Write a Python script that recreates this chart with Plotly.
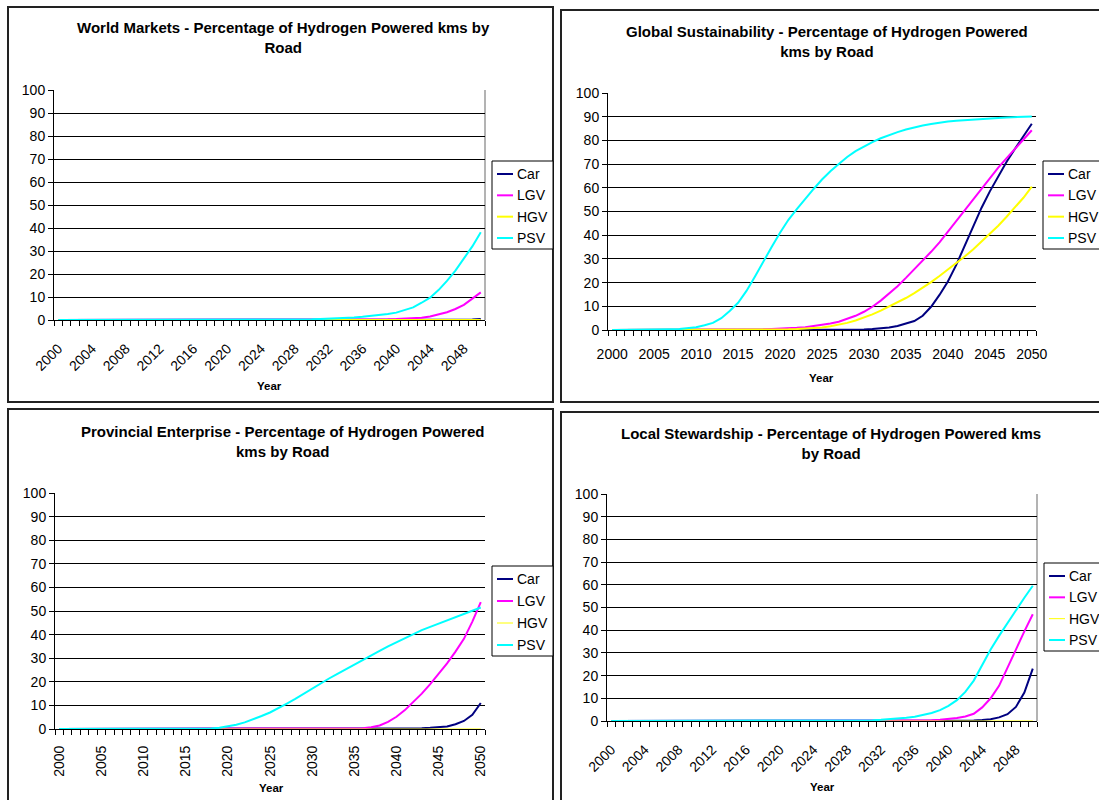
import plotly.graph_objects as go

W, H = 1099, 800

years = list(range(2000, 2051))
series_names = ["Car", "LGV", "HGV", "PSV"]
series_colors = ["#000080", "#FF00FF", "#FFFF00", "#00FFFF"]

titles = [
    "World Markets - Percentage of Hydrogen Powered kms by<br>Road",
    "Global Sustainability - Percentage of Hydrogen Powered<br>kms by Road",
    "Provincial Enterprise - Percentage of Hydrogen Powered<br>kms by Road",
    "Local Stewardship - Percentage of Hydrogen Powered kms<br>by Road",
]
x_title = "Year"

# ---- World Markets ----
wm_car = [0, 0, 0, 0, 0, 0, 0, 0, 0, 0,
          0, 0, 0, 0, 0, 0, 0, 0, 0, 0,
          0, 0, 0, 0, 0, 0, 0, 0, 0, 0,
          0, 0, 0, 0, 0, 0, 0, 0, 0, 0,
          0, 0, 0, 0, 0, 0, 0, 0, 0.1, 0.2,
          0.4]
wm_lgv = [0, 0, 0, 0, 0, 0, 0, 0, 0, 0,
          0, 0, 0, 0, 0, 0, 0, 0, 0, 0,
          0, 0, 0, 0, 0, 0, 0, 0, 0, 0,
          0, 0, 0, 0, 0, 0.1, 0.1, 0.15, 0.2, 0.3,
          0.4, 0.5, 0.7, 1.0, 1.5, 2.3, 3.4, 4.8, 6.6, 9.3,
          12.0]
wm_hgv = [0, 0, 0, 0, 0, 0, 0, 0, 0, 0,
          0, 0, 0, 0, 0, 0, 0, 0, 0, 0,
          0, 0, 0, 0, 0, 0, 0, 0, 0, 0,
          0, 0, 0, 0, 0, 0, 0, 0, 0, 0,
          0, 0, 0, 0, 0, 0, 0, 0, 0, 0,
          0]
wm_psv = [0, 0, 0, 0, 0, 0, 0, 0, 0, 0,
          0, 0, 0, 0, 0, 0, 0, 0, 0, 0,
          0, 0, 0, 0, 0, 0, 0, 0.1, 0.1, 0.2,
          0.3, 0.4, 0.5, 0.7, 0.9, 1.1, 1.4, 1.7, 2.1, 2.6,
          3.2, 4.2, 5.5, 7.5, 9.7, 13.0, 17.0, 21.5, 26.5, 32.0,
          38.2]

# ---- Global Sustainability ----
gs_car = [0, 0, 0, 0, 0, 0, 0, 0, 0, 0,
          0, 0, 0, 0, 0, 0, 0, 0, 0, 0,
          0, 0, 0, 0, 0, 0, 0, 0, 0, 0.1,
          0.2, 0.4, 0.7, 1.1, 1.7, 2.6, 3.8, 6.0, 9.8, 14.8,
          20.5, 27.5, 35.5, 43.5, 51.5, 58.5, 65.0, 71.0, 76.5, 82.0,
          87.0]
gs_lgv = [0, 0, 0, 0, 0, 0, 0, 0, 0, 0,
          0, 0, 0, 0, 0, 0.1, 0.1, 0.2, 0.3, 0.4,
          0.5, 0.7, 0.9, 1.2, 1.6, 2.1, 2.7, 3.5, 4.6, 6.0,
          7.7, 9.8, 12.4, 15.3, 18.5, 22.0, 25.6, 29.3, 33.0, 37.0,
          41.5, 46.0, 50.5, 55.0, 59.5, 64.0, 68.5, 72.5, 76.5, 80.5,
          84.3]
gs_hgv = [0, 0, 0, 0, 0, 0, 0, 0, 0, 0,
          0, 0, 0, 0, 0, 0, 0, 0, 0.1, 0.1,
          0.2, 0.3, 0.4, 0.6, 0.8, 1.1, 1.6, 2.2, 3.0, 4.0,
          5.2, 6.6, 8.2, 9.9, 11.6, 13.5, 15.6, 17.8, 20.2, 22.8,
          25.5, 28.2, 31.0, 34.0, 37.2, 40.5, 44.0, 47.8, 51.6, 55.8,
          60.5]
gs_psv = [0, 0, 0, 0, 0.1, 0.1, 0.2, 0.3, 0.4, 0.7,
          1.2, 2.0, 3.0, 5.0, 8.0, 11.5, 16.5, 22.5, 29.0, 35.0,
          41.0, 46.5, 51.0, 55.5, 59.5, 63.5, 67.0, 70.0, 73.0, 75.5,
          77.5, 79.3, 80.9, 82.3, 83.5, 84.6, 85.5, 86.3, 86.9, 87.5,
          88.0, 88.3, 88.6, 88.9, 89.1, 89.3, 89.5, 89.7, 89.8, 90.0,
          90.1]

# ---- Provincial Enterprise ----
pe_car = [0, 0, 0, 0, 0, 0, 0, 0, 0, 0,
          0, 0, 0, 0, 0, 0, 0, 0, 0, 0,
          0, 0, 0, 0, 0, 0, 0, 0, 0, 0,
          0, 0, 0, 0, 0, 0, 0, 0, 0, 0,
          0, 0.1, 0.2, 0.3, 0.5, 0.8, 1.1, 2.0, 3.4, 6.0,
          11.0]
pe_lgv = [0, 0, 0, 0, 0, 0, 0, 0, 0, 0,
          0, 0, 0, 0, 0, 0, 0, 0, 0, 0,
          0, 0, 0, 0, 0, 0, 0, 0, 0, 0,
          0, 0, 0, 0, 0, 0.1, 0.3, 0.7, 1.5, 3.0,
          5.2, 8.0, 11.3, 15.0, 19.0, 23.2, 27.8, 32.8, 38.2, 45.5,
          53.8]
pe_hgv = [0, 0, 0, 0, 0, 0, 0, 0, 0, 0,
          0, 0, 0, 0, 0, 0, 0, 0, 0, 0,
          0, 0, 0, 0, 0, 0, 0, 0, 0, 0,
          0, 0, 0, 0, 0, 0, 0, 0, 0, 0,
          0, 0, 0, 0, 0, 0, 0, 0, 0, 0,
          0]
pe_psv = [0, 0, 0, 0, 0, 0, 0, 0, 0, 0,
          0, 0, 0, 0, 0, 0, 0, 0, 0.2, 0.5,
          1.0, 1.8, 2.8, 4.0, 5.5, 7.0, 8.8, 10.8, 12.8, 15.0,
          17.2, 19.3, 21.4, 23.4, 25.4, 27.3, 29.3, 31.2, 33.1, 35.0,
          36.8, 38.6, 40.3, 41.9, 43.3, 44.7, 46.0, 47.3, 48.6, 50.0,
          51.5]

# ---- Local Stewardship ----
ls_car = [0, 0, 0, 0, 0, 0, 0, 0, 0, 0,
          0, 0, 0, 0, 0, 0, 0, 0, 0, 0,
          0, 0, 0, 0, 0, 0, 0, 0, 0, 0,
          0, 0, 0, 0, 0, 0, 0, 0, 0, 0,
          0, 0, 0, 0.2, 0.4, 0.8, 1.6, 3.0, 6.2, 12.5,
          23.1]
ls_lgv = [0, 0, 0, 0, 0, 0, 0, 0, 0, 0,
          0, 0, 0, 0, 0, 0, 0, 0, 0, 0,
          0, 0, 0, 0, 0, 0, 0, 0, 0, 0,
          0, 0, 0, 0, 0, 0, 0.1, 0.2, 0.3, 0.5,
          0.8, 1.3, 2.0, 3.2, 6.0, 10.0, 15.5, 23.5, 32.0, 39.5,
          47.0]
ls_hgv = [0, 0, 0, 0, 0, 0, 0, 0, 0, 0,
          0, 0, 0, 0, 0, 0, 0, 0, 0, 0,
          0, 0, 0, 0, 0, 0, 0, 0, 0, 0,
          0, 0, 0, 0, 0, 0, 0, 0, 0, 0,
          0, 0, 0, 0, 0, 0, 0, 0, 0, 0,
          0]
ls_psv = [0, 0, 0, 0, 0, 0, 0, 0, 0, 0,
          0, 0, 0, 0, 0, 0, 0, 0, 0, 0,
          0, 0, 0, 0, 0, 0, 0, 0, 0, 0,
          0.2, 0.3, 0.5, 0.7, 1.0, 1.4, 1.9, 2.6, 3.5, 4.8,
          6.7, 9.2, 12.8, 17.8, 24.5, 31.5, 37.5, 43.2, 48.8, 54.3,
          59.6]

panels_data = [
    [wm_car, wm_lgv, wm_hgv, wm_psv],
    [gs_car, gs_lgv, gs_hgv, gs_psv],
    [pe_car, pe_lgv, pe_hgv, pe_psv],
    [ls_car, ls_lgv, ls_hgv, ls_psv],
]

# ---------------- layout geometry (pixels) ----------------
def px(x):
    return x / W

def py(y):
    return 1 - y / H

FONT = "Arial, 'Liberation Sans', sans-serif"

# plot areas: (left, right, top, bottom) in px
plot_boxes = [
    (54, 485, 90, 320),
    (608, 1036, 93, 330),
    (55, 485, 493, 729),
    (607, 1037, 494, 721),
]
tick_step = [4, 5, 5, 4]
tick_angle = [-45, 0, -90, -45]
label_gap = [14, 11, 10, 14]
hgv_width = [2, 2, 1, 1]
gray_frame = [True, False, False, True]
# legend boxes: (left, top, bottom)
legend_box = [(492, 161, 249), (1043, 161, 249), (492, 566, 656), (1044, 563, 651)]
title_pos = [(283, 38), (827, 41), (282, 441), (831, 443)]
year_pos = [(269, 386), (821, 378), (271, 788), (822, 787)]
borders = [(8, 7, 553, 402), (561, 10, 1110, 402), (8, 409, 553, 810), (561, 412, 1110, 810)]

fig = go.Figure()

for p in range(4):
    sfx = "" if p == 0 else str(p + 1)
    for s in range(4):
        width = hgv_width[p] if s == 2 else 2
        fig.add_trace(go.Scatter(
            x=years, y=panels_data[p][s], mode="lines", name=series_names[s],
            line=dict(color=series_colors[s], width=width),
            xaxis="x" + sfx, yaxis="y" + sfx, showlegend=False, hoverinfo="skip",
        ))

layout = dict(
    width=W, height=H,
    margin=dict(l=0, r=0, t=0, b=0, autoexpand=False),
    paper_bgcolor="white", plot_bgcolor="white",
    font=dict(family=FONT, size=14, color="black"),
    showlegend=False,
    shapes=[], annotations=[],
)

for p in range(4):
    sfx = "" if p == 0 else str(p + 1)
    l, r, t, b = plot_boxes[p]
    layout["xaxis" + sfx] = dict(
        domain=[px(l), px(r)], anchor="y" + sfx,
        range=[1999.5, 2050.5], tick0=2000, dtick=tick_step[p],
        tickangle=tick_angle[p],
        ticks="outside", ticklen=label_gap[p], tickcolor="rgba(0,0,0,0)",
        showgrid=False, zeroline=False,
        showline=True, linecolor="black", linewidth=1,
        tickfont=dict(size=14, color="black"),
        minor=dict(tick0=1999.5, dtick=1, ticks="outside", ticklen=5,
                   tickcolor="black", tickwidth=1, showgrid=False),
        fixedrange=True,
    )
    layout["yaxis" + sfx] = dict(
        domain=[py(b), py(t)], anchor="x" + sfx,
        range=[0, 100], tick0=0, dtick=10,
        ticks="outside", ticklen=5, tickcolor="black",
        showgrid=True, gridcolor="black", gridwidth=1, zeroline=False,
        showline=True, linecolor="black", linewidth=1,
        tickfont=dict(size=14, color="black"),
        fixedrange=True,
    )
    if gray_frame[p]:
        layout["shapes"].append(dict(
            type="line", xref="x" + sfx + " domain", yref="y" + sfx + " domain",
            x0=1, x1=1, y0=0, y1=1, line=dict(color="#9a9a9a", width=1.5),
            layer="below",
        ))
    # chart title
    tx, ty = title_pos[p]
    layout["annotations"].append(dict(
        text="<b>" + titles[p] + "</b>", x=px(tx), y=py(ty),
        xref="paper", yref="paper", xanchor="center", yanchor="middle",
        showarrow=False, font=dict(size=15, color="black", family=FONT),
    ))
    # x-axis title
    yx, yy = year_pos[p]
    layout["annotations"].append(dict(
        text="<b>" + x_title + "</b>", x=px(yx), y=py(yy),
        xref="paper", yref="paper", xanchor="center", yanchor="middle",
        showarrow=False, font=dict(size=11.5, color="black", family=FONT),
    ))
    # panel frame
    bx0, by0, bx1, by1 = borders[p]
    layout["shapes"].append(dict(
        type="rect", xref="paper", yref="paper",
        x0=px(bx0), x1=px(bx1), y0=py(by1), y1=py(by0),
        line=dict(color="#222222", width=2), fillcolor="rgba(0,0,0,0)",
        layer="below",
    ))
    # legend box with entries
    lx, lt, lb = legend_box[p]
    layout["shapes"].append(dict(
        type="rect", xref="paper", yref="paper",
        x0=px(lx), x1=px(lx + 61), y0=py(lb), y1=py(lt),
        line=dict(color="black", width=1), fillcolor="white", layer="above",
    ))
    step = (lb - lt - 24) / 3.0
    for s in range(4):
        iy = lt + 13 + s * step
        lw = 1 if (s == 2 and p >= 2) else 2
        layout["shapes"].append(dict(
            type="line", xref="paper", yref="paper",
            x0=px(lx + 5), x1=px(lx + 21), y0=py(iy), y1=py(iy),
            line=dict(color=series_colors[s], width=lw), layer="above",
        ))
        layout["annotations"].append(dict(
            text=series_names[s], x=px(lx + 23), y=py(iy),
            xref="paper", yref="paper", xanchor="left", yanchor="middle",
            showarrow=False, font=dict(size=14, color="black", family=FONT),
        ))

fig.update_layout(**layout)

fig.write_html("out.html", config={"displayModeBar": False, "staticPlot": True},
               post_script="document.body.style.margin='0';document.body.style.overflow='hidden';")
